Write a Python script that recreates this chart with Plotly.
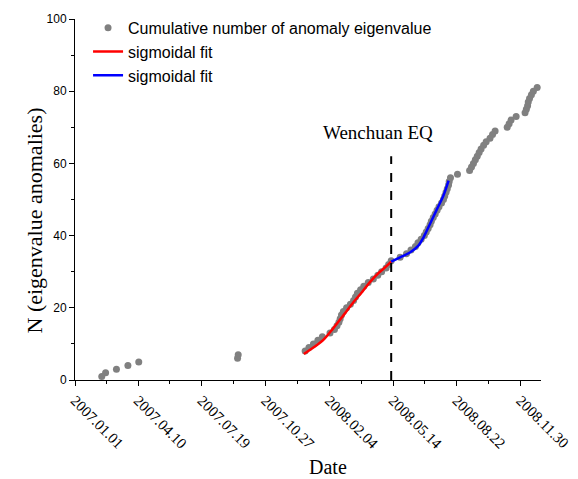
import plotly.graph_objects as go
import pandas as pd

ORIGIN = pd.Timestamp("2007-01-01")

# Cumulative anomaly points: day offset from 2007-01-01 and cumulative count
point_days = [42, 48, 65, 83, 100, 255, 256,
              361, 367, 374, 381, 388, 400, 407, 411, 414, 416, 418, 421, 426,
              432, 437, 440, 443, 448, 453, 460, 468, 475, 481, 488, 492, 496,
              510, 520, 527, 534, 538, 543, 548, 551, 554, 557, 559, 562, 565,
              568, 571, 575, 578, 580, 582, 584, 586, 587, 589, 600,
              619, 622, 625, 628, 631, 634, 637, 641, 645, 651, 655, 659,
              678, 681, 684, 692, 706, 708, 710, 711, 713, 716, 719, 725]
point_counts = list(range(1, len(point_days) + 1))

# Sigmoidal fit before the earthquake
fit1_days = [359, 374, 390, 405, 421, 437, 450, 463, 476, 489, 496]
fit1_vals = [7.2, 9.0, 11.2, 14.3, 17.9, 21.6, 24.3, 27.2, 29.6, 31.6, 32.8]

# Sigmoidal fit after the earthquake
fit2_days = [496, 510, 526, 539, 547, 557, 568, 578, 586]
fit2_vals = [32.8, 34.0, 35.4, 37.3, 39.6, 43.3, 47.4, 51.1, 55.2]

eq_day = 496
eq_top = 62

tick_dates = ["2007-01-01", "2007-04-10", "2007-07-19", "2007-10-27",
              "2008-02-04", "2008-05-14", "2008-08-22", "2008-11-30"]
tick_labels = ["2007.01.01", "2007.04.10", "2007.07.19", "2007.10.27",
               "2008.02.04", "2008.05.14", "2008.08.22", "2008.11.30"]


def to_dates(days):
    return [ORIGIN + pd.Timedelta(days=d) for d in days]


major = pd.to_datetime(tick_dates)
minor_vals = [major[i] + (major[i + 1] - major[i]) / 2 for i in range(len(major) - 1)]
minor_vals.append(major[-1] + pd.Timedelta(days=50))

fig = go.Figure()
fig.add_trace(go.Scatter(x=to_dates(point_days), y=point_counts, mode="markers",
                         marker=dict(color="#808080", size=7),
                         name="Cumulative number of anomaly eigenvalue"))
fig.add_trace(go.Scatter(x=to_dates(fit1_days), y=fit1_vals, mode="lines",
                         line=dict(color="#ff0000", width=2.5, shape="spline"),
                         name="sigmoidal fit"))
fig.add_trace(go.Scatter(x=to_dates(fit2_days), y=fit2_vals, mode="lines",
                         line=dict(color="#0000ff", width=2.5, shape="spline"),
                         name="sigmoidal fit"))
eq_date = ORIGIN + pd.Timedelta(days=eq_day)
fig.add_trace(go.Scatter(x=[eq_date, eq_date], y=[0, eq_top], mode="lines",
                         line=dict(color="black", width=2, dash="dash"),
                         showlegend=False, hoverinfo="skip"))

fig.update_layout(
    width=578, height=479,
    margin=dict(l=75, r=37, t=18, b=99),
    paper_bgcolor="white", plot_bgcolor="white",
    showlegend=True,
    legend=dict(x=0.028, y=1.02, xanchor="left", yanchor="top",
                bgcolor="rgba(0,0,0,0)",
                font=dict(family="Liberation Sans, Arial", size=16, color="black"),
                tracegroupgap=0, itemwidth=30),
    annotations=[
        dict(text="Wenchuan EQ", x=eq_date, y=68.5, xref="x", yref="y",
             showarrow=False, xshift=-13,
             font=dict(family="Liberation Serif, Times New Roman", size=19, color="black")),
        dict(text="Date", x=0.543, y=-0.24, xref="paper", yref="paper",
             xanchor="center", yanchor="middle", showarrow=False,
             font=dict(family="Liberation Serif, Times New Roman", size=20, color="black")),
        dict(text="N (eigenvalue anomalies)", x=-0.086, y=0.4416, xref="paper",
             yref="paper", xanchor="center", yanchor="middle",
             showarrow=False, textangle=-90,
             font=dict(family="Liberation Serif, Times New Roman", size=22, color="black")),
    ],
)
fig.update_xaxes(
    type="date", range=["2007-01-01", "2009-01-01"],
    tickmode="array", tickvals=list(major), ticktext=tick_labels,
    tickangle=45, ticks="outside", ticklen=5, tickwidth=1, tickcolor="black",
    showline=True, linecolor="black", linewidth=1, showgrid=False, zeroline=False,
    tickfont=dict(family="Liberation Serif, Times New Roman", size=15, color="black"),
    minor=dict(tickmode="array", tickvals=minor_vals, ticks="outside", ticklen=3,
               tickcolor="black", showgrid=False),
    automargin=False,
)
fig.update_yaxes(
    range=[0, 100], tickmode="array", tickvals=[0, 20, 40, 60, 80, 100],
    ticks="outside", ticklen=5, tickwidth=1, tickcolor="black",
    showline=True, linecolor="black", linewidth=1, showgrid=False, zeroline=False,
    tickfont=dict(family="Liberation Sans, Arial", size=12, color="black"),
    minor=dict(tickmode="array", tickvals=[10, 30, 50, 70, 90], ticks="outside",
               ticklen=3, tickcolor="black", showgrid=False),
    automargin=False,
)

fig.write_html("out.html")
